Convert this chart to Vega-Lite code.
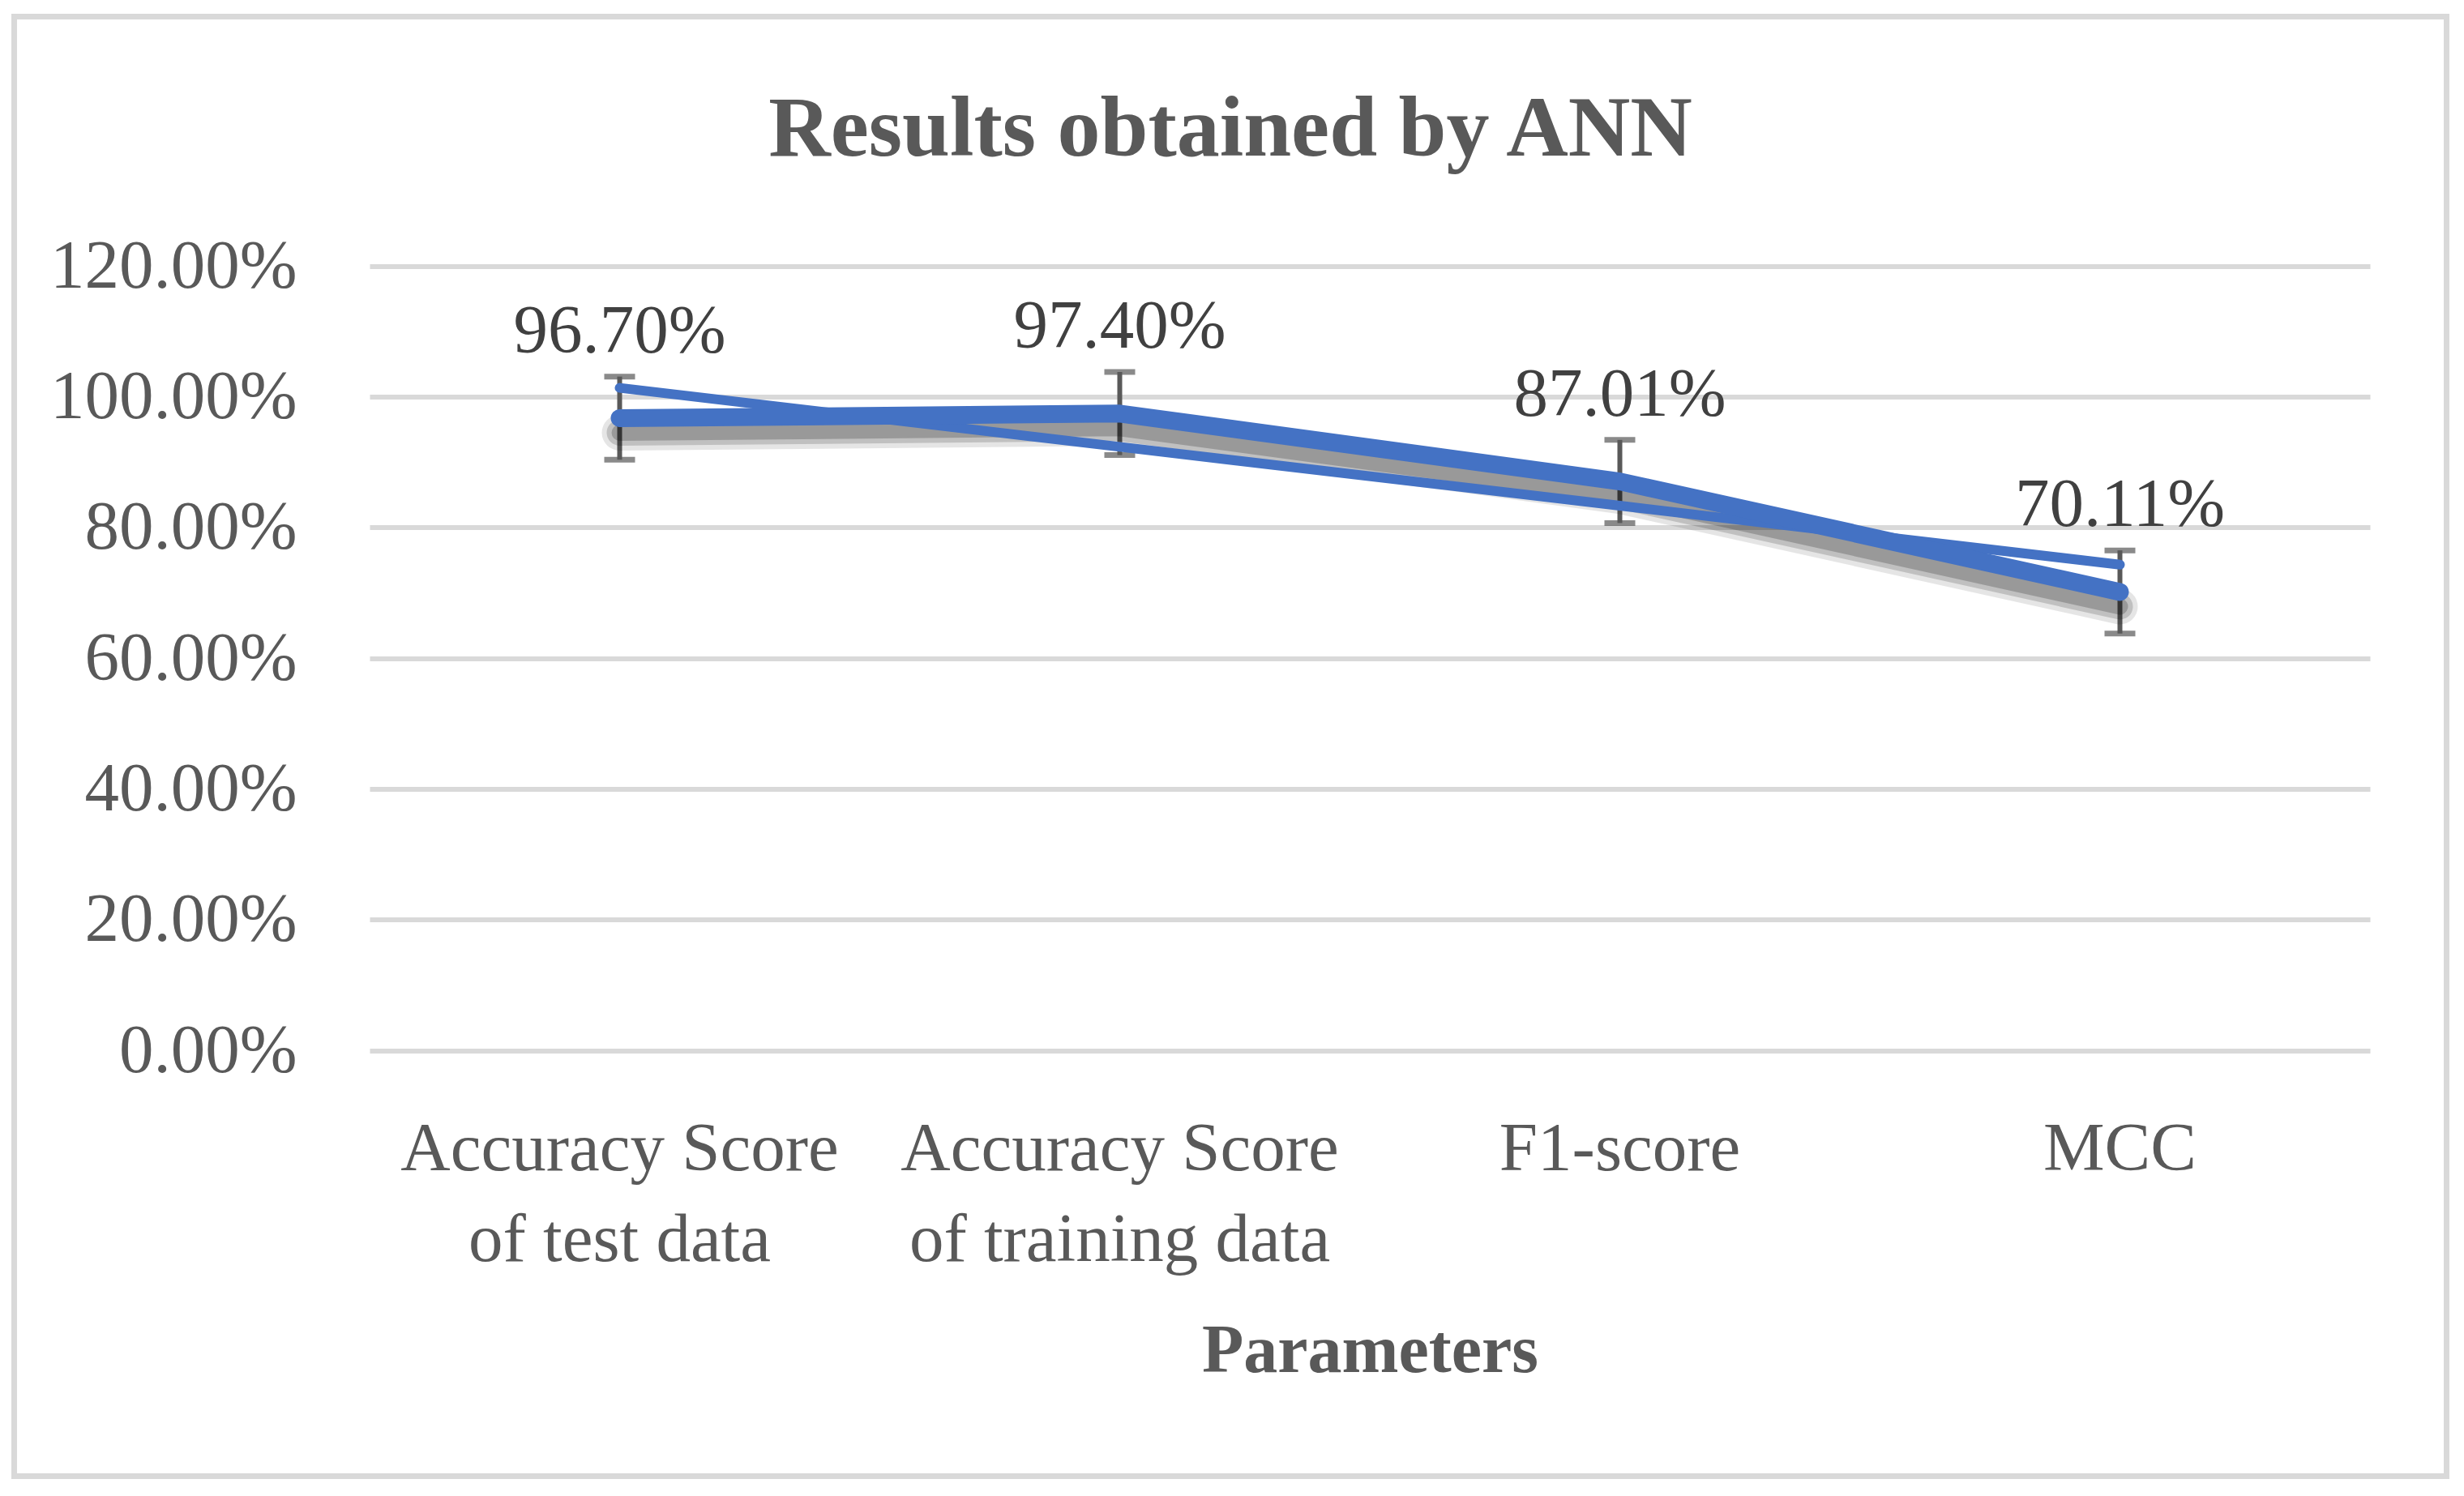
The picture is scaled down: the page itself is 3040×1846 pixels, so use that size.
{
  "$schema": "https://vega.github.io/schema/vega-lite/v6.json",
  "autosize": {"type": "none"},
  "padding": {"left": 17.5, "top": 20.5, "right": 21.5, "bottom": 24.5},
  "width": 3001,
  "height": 1801,
  "background": "white",
  "config": {
    "view": {"stroke": "#D9D9D9", "strokeWidth": 7},
    "font": "Liberation Serif"
  },
  "title": {
    "text": "Results obtained by ANN",
    "font": "Liberation Serif",
    "fontSize": 106,
    "fontWeight": "bold",
    "color": "#595959",
    "anchor": "middle",
    "frame": "group",
    "baseline": "alphabetic",
    "offset": -277.5
  },
  "data": {
    "values": [
      {"cat": "Accuracy Score of test data", "value": 0.967, "trend": 1.0133, "lo": 0.9034, "hi": 1.0306},
      {"cat": "Accuracy Score of training data", "value": 0.974, "trend": 0.9231, "lo": 0.9104, "hi": 1.0376},
      {"cat": "F1-score", "value": 0.8701, "trend": 0.833, "lo": 0.8065, "hi": 0.9337},
      {"cat": "MCC", "value": 0.7011, "trend": 0.7428, "lo": 0.6375, "hi": 0.7647}
    ]
  },
  "encoding": {
    "x": {
      "field": "cat",
      "type": "nominal",
      "sort": null,
      "scale": {"range": [438.5, 2906.5], "paddingInner": 0, "paddingOuter": 0},
      "axis": {
        "labelExpr": "indexof(datum.label, ' of ') > 0 ? [substring(datum.label, 0, indexof(datum.label, ' of ')), substring(datum.label, indexof(datum.label, ' of ') + 1)] : datum.label",
        "labelFont": "Liberation Serif",
        "labelFontSize": 85,
        "labelColor": "#595959",
        "labelAngle": 0,
        "labelAlign": "center",
        "labelBaseline": "alphabetic",
        "labelLineHeight": 112,
        "labelPadding": 0,
        "labelLimit": 2000,
        "labelOverlap": false,
        "ticks": false,
        "tickSize": 0,
        "domain": false,
        "grid": false,
        "offset": -378.5,
        "title": "Parameters",
        "titleFont": "Liberation Serif",
        "titleFontSize": 84,
        "titleFontWeight": "bold",
        "titleColor": "#595959",
        "titleBaseline": "alphabetic",
        "titleY": 249
      }
    }
  },
  "layer": [
    {
      "layer": [
        {
          "mark": {"type": "rule", "color": "#595959", "strokeWidth": 6},
          "encoding": {
            "y": {
              "field": "lo",
              "type": "quantitative",
              "scale": {"domain": [0, 1.2], "range": [1275.5, 307.5], "nice": false, "zero": false},
              "axis": {
                "values": [0, 0.2, 0.4, 0.6, 0.8, 1.0, 1.2],
                "format": ".2%",
                "labelFont": "Liberation Serif",
                "labelFontSize": 85,
                "labelColor": "#595959",
                "labelPadding": 0,
                "labelAlign": "right",
                "labelBaseline": "middle",
                "labelLimit": 2000,
                "ticks": false,
                "tickSize": 0,
                "domain": false,
                "grid": true,
                "gridColor": "#D9D9D9",
                "gridWidth": 6,
                "offset": -348.5,
                "title": null
              }
            },
            "y2": {"field": "hi"}
          }
        },
        {
          "mark": {"type": "tick", "color": "#595959", "thickness": 7, "size": 38, "orient": "horizontal"},
          "encoding": {"y": {"field": "hi", "type": "quantitative"}}
        },
        {
          "mark": {"type": "tick", "color": "#595959", "thickness": 7, "size": 38, "orient": "horizontal"},
          "encoding": {"y": {"field": "lo", "type": "quantitative"}}
        }
      ]
    },
    {
      "layer": [
        {
          "mark": {"type": "line", "color": "#000000", "opacity": 0.1, "strokeWidth": 44, "strokeCap": "round", "strokeJoin": "round"},
          "encoding": {
            "y": {
              "field": "value",
              "type": "quantitative",
              "scale": {"domain": [0, 1.2], "range": [1293.5, 325.5], "nice": false, "zero": false},
              "axis": null
            }
          }
        },
        {
          "mark": {"type": "line", "color": "#000000", "opacity": 0.16, "strokeWidth": 32, "strokeCap": "round", "strokeJoin": "round"},
          "encoding": {"y": {"field": "value", "type": "quantitative"}}
        },
        {
          "mark": {"type": "line", "color": "#000000", "opacity": 0.2, "strokeWidth": 20, "strokeCap": "round", "strokeJoin": "round"},
          "encoding": {"y": {"field": "value", "type": "quantitative"}}
        }
      ]
    },
    {
      "layer": [
        {
          "mark": {"type": "line", "color": "#4472C4", "strokeWidth": 12, "strokeCap": "round"},
          "encoding": {
            "y": {
              "field": "trend",
              "type": "quantitative",
              "scale": {"domain": [0, 1.2], "range": [1275.5, 307.5], "nice": false, "zero": false},
              "axis": null
            }
          }
        },
        {
          "mark": {"type": "line", "color": "#4472C4", "strokeWidth": 22, "strokeCap": "round", "strokeJoin": "round"},
          "encoding": {"y": {"field": "value", "type": "quantitative"}}
        },
        {
          "mark": {"type": "text", "dy": -81, "baseline": "alphabetic", "align": "center", "fontSize": 85, "font": "Liberation Serif", "color": "#404040"},
          "encoding": {
            "y": {"field": "value", "type": "quantitative"},
            "text": {"field": "value", "type": "quantitative", "format": ".2%"}
          }
        }
      ]
    }
  ],
  "resolve": {"scale": {"y": "independent"}}
}
